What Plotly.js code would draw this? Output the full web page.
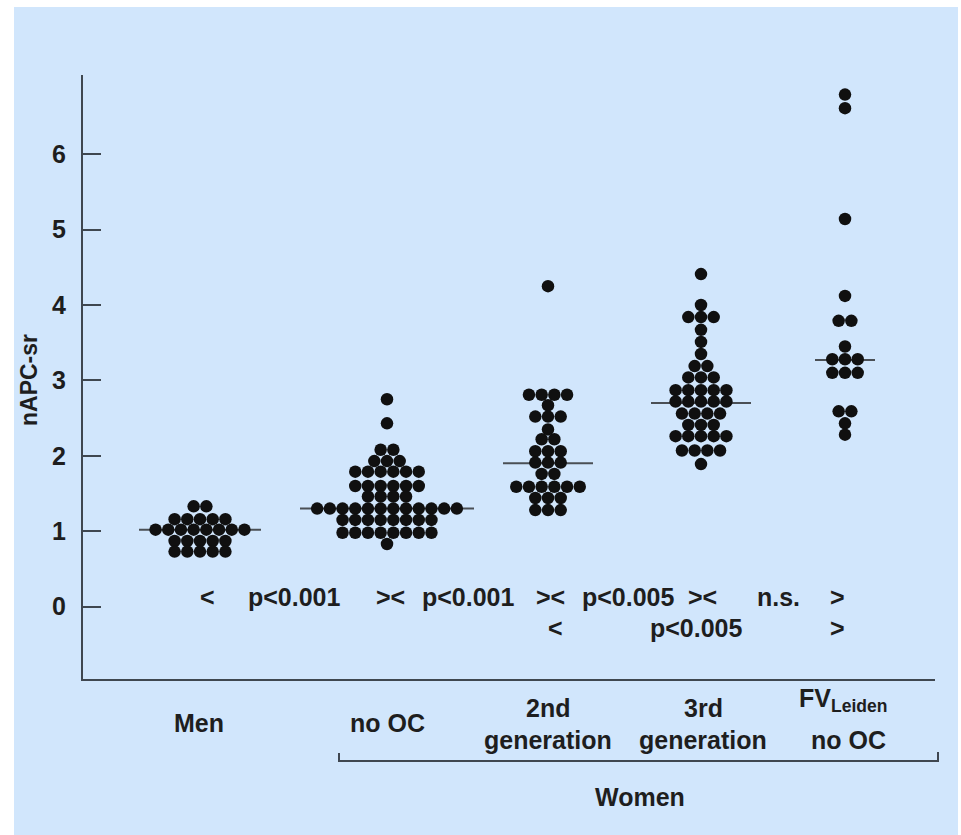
<!DOCTYPE html>
<html>
<head>
<meta charset="utf-8">
<script src="https://cdn.plot.ly/plotly-3.0.1.min.js"></script>
<style>
  html, body { margin: 0; padding: 0; background: #ffffff; }
  #chart { width: 961px; height: 835px; }
</style>
</head>
<body>
<div id="chart"></div>
<script>
// ---------------- data ----------------
const groupNames = ["Men", "no OC", "2nd generation", "3rd generation", "FV Leiden no OC"];

const men = [1.33, 1.33,
  1.16, 1.16, 1.16, 1.16, 1.16,
  1.02, 1.02, 1.02, 1.02, 1.02, 1.02, 1.02, 1.02,
  0.87, 0.87, 0.87, 0.87, 0.87,
  0.73, 0.73, 0.73, 0.73, 0.73];

const noOC = [2.75, 2.43,
  2.08, 2.08,
  1.93, 1.93, 1.93,
  1.79, 1.79, 1.79, 1.79, 1.79, 1.79,
  1.60, 1.60, 1.60, 1.60, 1.60, 1.60,
  1.46, 1.46, 1.46, 1.46,
  1.30, 1.30, 1.30, 1.30, 1.30, 1.30, 1.30, 1.30, 1.30, 1.30, 1.30, 1.30,
  1.15, 1.15, 1.15, 1.15, 1.15, 1.15, 1.15, 1.15,
  0.98, 0.98, 0.98, 0.98, 0.98, 0.98, 0.98, 0.98,
  0.83];

const gen2 = [4.25,
  2.81, 2.81, 2.81, 2.81,
  2.67,
  2.52, 2.52, 2.52,
  2.35,
  2.22, 2.22,
  2.06, 2.06, 2.06,
  1.91, 1.91, 1.91,
  1.76, 1.76,
  1.59, 1.59, 1.59, 1.59, 1.59, 1.59,
  1.44, 1.44, 1.44,
  1.28, 1.28, 1.28];

const gen3 = [4.41, 4.00,
  3.84, 3.84, 3.84,
  3.67, 3.51, 3.35,
  3.19, 3.19,
  3.04, 3.04, 3.04,
  2.87, 2.87, 2.87, 2.87, 2.87,
  2.72, 2.72, 2.72, 2.72, 2.72,
  2.56, 2.56, 2.56, 2.56,
  2.41, 2.41, 2.41,
  2.26, 2.26, 2.26, 2.26, 2.26,
  2.07, 2.07, 2.07, 2.07,
  1.89];

const fvLeiden = [6.79, 6.61, 5.14, 4.12,
  3.79, 3.79,
  3.45,
  3.28, 3.28, 3.28,
  3.10, 3.10, 3.10,
  2.59, 2.59,
  2.43, 2.28];

const medians = [1.02, 1.30, 1.90, 2.70, 3.27];

const yTickVals = [0, 1, 2, 3, 4, 5, 6];
const yTitle = "nAPC-sr";
const pRow1 = ["<", "p<0.001", "><", "p<0.001", "><", "p<0.005", "><", "n.s.", ">"];
const pRow2 = ["<", "p<0.005", ">"];
const womenLabel = "Women";

// ---------------- layout constants ----------------
const X0 = 83, X1 = 935, Y0 = 75, Y1 = 679;        // plot area in pixels
const centers = [200, 387, 548, 701, 845];          // group centres (x axis units = px)
const medianHalf = [61, 87, 45, 50, 30];
const SP = 12.7;                                     // dot spacing
const px = x => (x - X0) / (X1 - X0);
const py = y => (Y1 - y) / (Y1 - Y0);

const FONT = "'Liberation Sans', Arial, Helvetica, sans-serif";
const TXT = "#1e1e1e";
const AX = "#3f4750";
const FS = 25;

function swarm(values, cx) {
  const counts = {}, seen = {};
  values.forEach(v => counts[v] = (counts[v] || 0) + 1);
  const xs = [], ys = [];
  values.forEach(v => {
    const n = counts[v], i = seen[v] || 0;
    seen[v] = i + 1;
    xs.push(cx + (i - (n - 1) / 2) * SP);
    ys.push(v);
  });
  return { xs, ys };
}

const groups = [men, noOC, gen2, gen3, fvLeiden];
const traces = [];
groups.forEach((vals, g) => {
  traces.push({
    type: "scatter", mode: "lines", hoverinfo: "skip", showlegend: false,
    x: [centers[g] - medianHalf[g], centers[g] + medianHalf[g]],
    y: [medians[g], medians[g]],
    line: { color: "#4a4f55", width: 2 }
  });
});
groups.forEach((vals, g) => {
  const s = swarm(vals, centers[g]);
  traces.push({
    type: "scatter", mode: "markers", name: groupNames[g], showlegend: false,
    x: s.xs, y: s.ys,
    marker: { size: 12.5, color: "#101010", line: { width: 0 } }
  });
});

function ann(text, x, y, size, extra) {
  return Object.assign({
    text: text, xref: "paper", yref: "paper", x: px(x), y: py(y),
    xanchor: "center", yanchor: "middle", showarrow: false,
    font: { family: FONT, size: size, color: TXT, weight: "bold" }
  }, extra || {});
}

const annotations = [
  ann(yTitle, 29, 380, 23, { textangle: -90 }),
  ann("Men", 199, 723, FS),
  ann("no OC", 387, 723, FS),
  ann("2nd", 548, 708, FS),
  ann("generation", 548, 740, FS),
  ann("3rd", 703, 708, FS),
  ann("generation", 703, 740, FS),
  ann("FV<sub>Leiden</sub>", 843, 700, FS),
  ann("no OC", 848, 740, FS),
  ann(womenLabel, 640, 797, FS)
];
const row1X = [207, 294, 390, 468, 550, 628, 702, 778, 837];
pRow1.forEach((t, i) => annotations.push(ann(t, row1X[i], 597, FS)));
const row2X = [555, 696, 837];
pRow2.forEach((t, i) => annotations.push(ann(t, row2X[i], 628, FS)));

const shapes = [
  { type: "rect", xref: "paper", yref: "paper", layer: "below",
    x0: px(14), x1: px(958), y0: py(835), y1: py(7),
    fillcolor: "#d1e6fc", line: { width: 0 } },
  { type: "path", xref: "paper", yref: "paper",
    path: `M ${px(339)} ${py(753)} L ${px(339)} ${py(761)} L ${px(938)} ${py(761)} L ${px(938)} ${py(752)}`,
    line: { color: AX, width: 2 } }
];

const layout = {
  width: 961, height: 835,
  margin: { l: X0, r: 961 - X1, t: Y0, b: 835 - Y1, pad: 0 },
  paper_bgcolor: "#ffffff", plot_bgcolor: "rgba(0,0,0,0)",
  showlegend: false,
  xaxis: {
    range: [X0, X1], showgrid: false, zeroline: false, showticklabels: false,
    ticks: "", showline: true, linecolor: AX, linewidth: 2, fixedrange: true
  },
  yaxis: {
    range: [-0.96, 7.05], showgrid: false, zeroline: false,
    tickvals: yTickVals, ticktext: yTickVals.map(String),
    ticks: "inside", ticklen: 18, tickwidth: 2, tickcolor: AX,
    showline: true, linecolor: AX, linewidth: 2,
    ticklabelstandoff: 10,
    tickfont: { family: FONT, size: FS, color: TXT, weight: "bold" },
    fixedrange: true
  },
  annotations: annotations,
  shapes: shapes
};

Plotly.newPlot("chart", traces, layout, { displayModeBar: false, staticPlot: true });
</script>
</body>
</html>
